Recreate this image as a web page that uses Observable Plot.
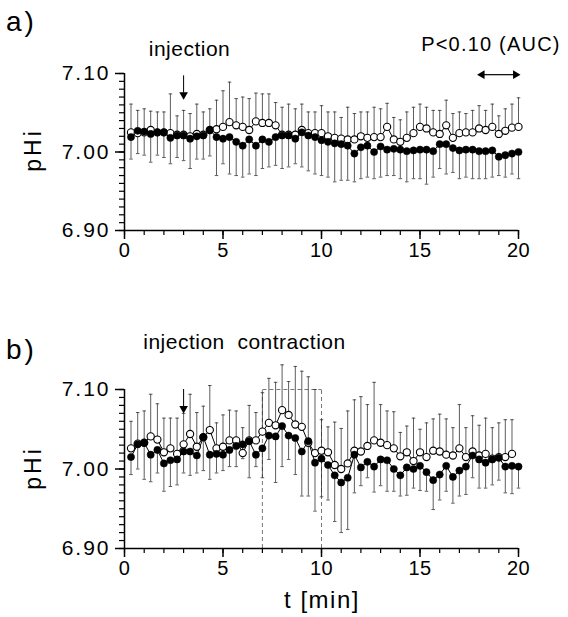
<!DOCTYPE html>
<html>
<head>
<meta charset="utf-8">
<script src="https://cdn.jsdelivr.net/npm/d3@7"></script>
<script src="https://cdn.jsdelivr.net/npm/@observablehq/plot@0.6"></script>
<style>
  body { margin: 0; background: white; }
  #wrap { position: relative; width: 568px; height: 617px; background: white; font-family: "Liberation Sans", Arial, sans-serif; color: black; overflow: hidden; }
  .panel { position: absolute; left: 0; }
  .lbl { position: absolute; white-space: nowrap; line-height: 1; }
  svg [aria-label="y-axis tick label"] text { letter-spacing: 2px; }
  svg [aria-label="x-axis tick label"] text { letter-spacing: 0.5px; }
  svg g[aria-label="text"] text { letter-spacing: 0.5px; }
</style>
</head>
<body>
<div id="wrap">
  <div class="panel" id="pa" style="top:0"></div>
  <div class="panel" id="pb" style="top:300px"></div>
  <div class="lbl" style="left:6px;top:8px;font-size:28px;letter-spacing:3px">a)</div>
  <div class="lbl" style="left:6px;top:336px;font-size:28px;letter-spacing:3px">b)</div>
  <div class="lbl" style="left:33px;top:150px;font-size:23px;letter-spacing:3px;transform:translate(-50%,-50%) rotate(-90deg)">pHi</div>
  <div class="lbl" style="left:33px;top:468px;font-size:23px;letter-spacing:3px;transform:translate(-50%,-50%) rotate(-90deg)">pHi</div>
  <div class="lbl" style="left:322px;top:600px;font-size:24px;letter-spacing:1.5px;transform:translate(-50%,-50%)">t [min]</div>
</div>
<script>
// sampling times (min), one point every 20 s
const times = [0.33,0.67,1,1.33,1.67,2,2.33,2.67,3,3.33,3.67,4,4.33,4.67,5,5.33,5.67,6,6.33,6.67,
  7,7.33,7.67,8,8.33,8.67,9,9.33,9.67,10,10.33,10.67,11,11.33,11.67,12,12.33,12.67,13,13.33,
  13.67,14,14.33,14.67,15,15.33,15.67,16,16.33,16.67,17,17.33,17.67,18,18.33,18.67,19,19.33,19.67,20];

// panel a) open circles (mean) and upper error bar ends
const aOpen = [7.025,7.024,7.025,7.028,7.025,7.025,7.024,7.022,7.022,7.020,7.023,7.022,7.028,7.029,7.032,7.038,7.034,7.032,7.028,7.039,
  7.037,7.037,7.034,7.022,7.022,7.022,7.028,7.024,7.024,7.024,7.020,7.018,7.017,7.016,7.016,7.020,7.018,7.019,7.019,7.032,
  7.016,7.013,7.018,7.024,7.032,7.030,7.025,7.023,7.034,7.018,7.024,7.025,7.025,7.030,7.028,7.032,7.023,7.027,7.031,7.032];
const aUpper = [7.061,7.053,7.055,7.052,7.051,7.051,7.074,7.046,7.053,7.049,7.061,7.051,7.055,7.066,7.078,7.089,7.068,7.070,7.068,7.075,
  7.074,7.074,7.063,7.057,7.061,7.055,7.061,7.051,7.051,7.059,7.051,7.051,7.044,7.057,7.049,7.051,7.051,7.057,7.055,7.062,
  7.044,7.041,7.051,7.057,7.061,7.057,7.053,7.053,7.066,7.049,7.051,7.049,7.053,7.059,7.053,7.061,7.046,7.055,7.061,7.069];
// panel a) filled circles (mean) and lower error bar ends
const aFilled = [7.019,7.027,7.026,7.023,7.025,7.025,7.018,7.021,7.021,7.017,7.020,7.021,7.028,7.019,7.017,7.019,7.013,7.008,7.016,7.008,
  7.016,7.013,7.019,7.021,7.021,7.017,7.025,7.021,7.019,7.015,7.013,7.011,7.010,7.008,6.998,7.006,7.008,7.000,7.007,7.003,
  7.004,7.003,7.001,7.002,7.003,7.003,7.001,7.010,7.010,7.005,7.002,7.003,7.003,7.001,7.001,7.002,6.994,6.996,6.998,7.000];
const aLower = [6.991,6.998,6.996,6.987,6.996,6.993,6.985,6.993,6.989,6.979,6.991,6.991,6.995,6.970,6.985,6.972,6.970,6.968,6.972,6.970,
  6.979,6.981,6.983,6.979,6.981,6.985,6.981,6.976,6.972,6.970,6.968,6.962,6.964,6.964,6.962,6.966,6.968,6.966,6.968,6.970,
  6.970,6.966,6.962,6.966,6.966,6.959,6.968,6.979,6.972,6.974,6.966,6.968,6.966,6.966,6.966,6.968,6.970,6.968,6.972,6.966];

// panel b) open circles and upper error bar ends
const bOpen = [7.026,7.032,7.033,7.041,7.037,7.021,7.026,7.019,7.031,7.044,7.028,7.040,7.049,7.026,7.028,7.036,7.036,7.020,7.036,7.036,
  7.047,7.058,7.055,7.074,7.068,7.056,7.053,7.033,7.020,7.023,7.021,7.005,7.000,7.007,7.023,7.022,7.029,7.036,7.033,7.030,
  7.026,7.016,7.021,7.010,7.021,7.015,7.023,7.022,7.018,7.017,7.026,7.015,7.022,7.017,7.019,7.013,7.015,7.015,7.019];
const bUpper = [7.060,7.071,7.073,7.094,7.082,7.064,7.064,7.064,7.070,7.094,7.071,7.079,7.105,7.058,7.068,7.074,7.073,7.052,7.080,7.071,
  7.096,7.114,7.109,7.131,7.110,7.129,7.123,7.116,7.100,7.062,7.053,7.059,7.051,7.073,7.087,7.091,7.081,7.109,7.081,7.073,
  7.072,7.046,7.054,7.064,7.050,7.058,7.063,7.069,7.063,7.052,7.081,7.052,7.067,7.055,7.064,7.052,7.058,7.062,7.062];
// panel b) filled circles and lower error bar ends
const bFilled = [7.015,7.031,7.033,7.018,7.024,7.007,7.011,7.012,7.022,7.022,7.017,7.040,7.018,7.019,7.018,7.024,7.029,7.031,7.035,7.018,
  7.026,7.042,7.041,7.054,7.042,7.039,7.022,7.035,7.008,7.013,7.005,6.992,6.983,6.989,7.018,7.002,7.009,7.003,7.012,7.011,
  7.000,6.992,7.002,7.000,7.004,6.996,6.986,6.993,7.004,6.990,6.998,7.003,7.017,7.012,7.008,7.012,7.014,7.003,7.004,7.003];
const bLower = [6.993,7.000,6.987,6.984,6.995,6.972,6.978,6.980,6.995,6.992,6.995,6.998,6.987,6.995,6.998,7.003,7.003,7.013,6.989,7.003,
  6.989,7.012,6.983,7.003,7.012,6.993,6.966,6.966,6.947,6.965,6.961,6.934,6.920,6.924,6.970,6.979,6.989,6.971,6.979,6.972,
  6.972,6.966,6.967,6.976,6.973,6.972,6.949,6.961,6.972,6.957,6.966,6.968,6.989,6.976,6.976,6.980,6.986,6.970,6.969,6.976];

// axes
const xTicks = [0, 5, 10, 15, 20];
const xMinor = [0,1,2,3,4,5,6,7,8,9,10,11,12,13,14,15,16,17,18,19,20];
const yTicks = [6.90, 7.00, 7.10];
const yMinor = [6.90,6.91,6.92,6.93,6.94,6.95,6.96,6.97,6.98,6.99,7.00,7.01,7.02,7.03,7.04,7.05,7.06,7.07,7.08,7.09,7.10];
const yDomain = [6.90, 7.10];
const xDomain = [0, 20];

// annotations
const injectionTime = 3;
const contraction = [7, 10];
const aucRange = [18, 20];

const FONT = '"Liberation Sans", Arial, sans-serif';

function rows(vals, ends) {
  return vals.map((v, i) => ({t: times[i], v, e: ends[i]}));
}

function arrowDown(x, yTop, yTip) {
  return [
    Plot.ruleX([x], {x: d => d, y1: () => yTop, y2: () => yTip + 0.006, stroke: "black", strokeWidth: 1}),
    Plot.dot([x], {x: d => d, y: () => yTip + 0.004, symbol: "triangle", rotate: 180, r: 3.2, fill: "black", stroke: "none"})
  ];
}

function panel({open, upper, filled, lower, height, marginTop, marginBottom, extraBack, extraFront}) {
  const o = rows(open, upper);
  const f = rows(filled, lower);
  const cap = 0.09;
  return Plot.plot({
    width: 568, height, marginLeft: 124, marginRight: 50, marginTop, marginBottom,
    x: {domain: xDomain},
    y: {domain: yDomain},
    style: {fontFamily: FONT, fontSize: "20px", color: "black", background: "white", overflow: "visible"},
    marks: [
      ...extraBack,
      // error bars
      Plot.ruleX(o, {x: "t", y1: "v", y2: "e", stroke: "#333", strokeWidth: 0.8}),
      Plot.link(o, {x1: d => d.t - cap, x2: d => d.t + cap, y1: "e", y2: "e", stroke: "#333", strokeWidth: 0.8}),
      Plot.ruleX(f, {x: "t", y1: "v", y2: "e", stroke: "#333", strokeWidth: 0.8}),
      Plot.link(f, {x1: d => d.t - cap, x2: d => d.t + cap, y1: "e", y2: "e", stroke: "#333", strokeWidth: 0.8}),
      // lines
      Plot.line(o, {x: "t", y: "v", stroke: "black", strokeWidth: 1}),
      Plot.line(f, {x: "t", y: "v", stroke: "black", strokeWidth: 1}),
      // points
      Plot.dot(o, {x: "t", y: "v", r: 3.6, fill: "white", stroke: "black", strokeWidth: 1.1}),
      Plot.dot(f, {x: "t", y: "v", r: 3.6, fill: "black", stroke: "black", strokeWidth: 0.5}),
      // axes
      Plot.axisX(xMinor, {tickSize: 5, tickFormat: () => "", label: null, strokeWidth: 1.2}),
      Plot.axisX(xTicks, {tickSize: 9, tickPadding: 3, label: null, strokeWidth: 1.5, fontSize: 20}),
      Plot.axisY(yMinor, {tickSize: 5, tickFormat: () => "", label: null, strokeWidth: 1.2}),
      Plot.axisY(yTicks, {tickSize: 9, tickPadding: 5, tickFormat: d3.format(".2f"), label: null, strokeWidth: 1.5, fontSize: 21}),
      Plot.ruleX([0], {x: d => d, y1: () => yDomain[0], y2: () => yDomain[1], stroke: "black", strokeWidth: 1.5}),
      Plot.ruleY([yDomain[0]], {y: d => d, x1: () => xDomain[0], x2: () => xDomain[1], stroke: "black", strokeWidth: 1.5}),
      ...extraFront
    ]
  });
}

const plotA = panel({
  open: aOpen, upper: aUpper, filled: aFilled, lower: aLower,
  height: 275, marginTop: 73, marginBottom: 45,
  extraBack: [],
  extraFront: [
    Plot.text([{t: 3.3, v: 7.131, s: "injection"}], {x: "t", y: "v", text: "s", fontSize: 21, fill: "black"}),
    ...arrowDown(injectionTime, 7.097, 7.069),
    Plot.text([{t: 18.6, v: 7.137, s: "P<0.10 (AUC)"}], {x: "t", y: "v", text: "s", fontSize: 20, fill: "black"}),
    Plot.link([aucRange], {x1: d => d[0] + 0.2, x2: d => d[1] - 0.2, y1: () => 7.0985, y2: () => 7.0985, stroke: "black", strokeWidth: 1.2}),
    Plot.dot([aucRange[0]], {x: d => d + 0.15, y: () => 7.0985, symbol: "triangle", rotate: -90, r: 3.2, fill: "black", stroke: "none"}),
    Plot.dot([aucRange[1]], {x: d => d - 0.15, y: () => 7.0985, symbol: "triangle", rotate: 90, r: 3.2, fill: "black", stroke: "none"})
  ]
});

const plotB = panel({
  open: bOpen, upper: bUpper, filled: bFilled, lower: bLower,
  height: 317, marginTop: 89, marginBottom: 69,
  extraBack: [
    Plot.ruleX(contraction, {x: d => d, y1: () => yDomain[0], y2: () => 7.10, stroke: "#555", strokeWidth: 0.8, strokeDasharray: "4,3"}),
    Plot.link([contraction], {x1: d => d[0], x2: d => d[1], y1: () => 7.10, y2: () => 7.10, stroke: "#555", strokeWidth: 0.8, strokeDasharray: "4,3"})
  ],
  extraFront: [
    Plot.text([{t: 0.95, v: 7.159, s: "injection  contraction"}], {x: "t", y: "v", text: "s", fontSize: 21, fill: "black", textAnchor: "start"}),
    ...arrowDown(injectionTime, 7.100, 7.072)
  ]
});

// wider spacing for the AUC note, as in the original
d3.select(plotA).selectAll('g[aria-label="text"] text')
  .filter(function() { return this.textContent.startsWith("P<"); })
  .style("letter-spacing", "1.2px");

document.getElementById("pa").appendChild(plotA);
document.getElementById("pb").appendChild(plotB);
</script>
</body>
</html>
